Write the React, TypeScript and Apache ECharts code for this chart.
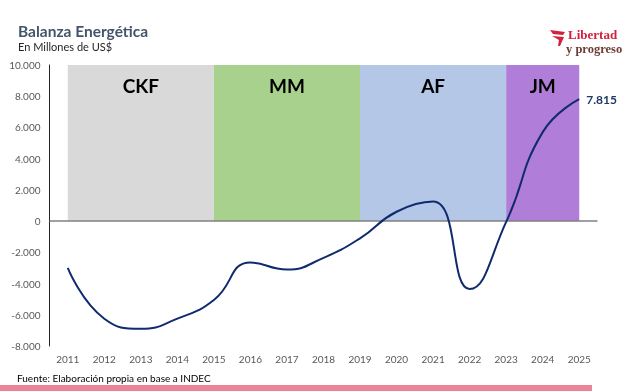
import React, { useEffect, useRef } from "react";
import * as echarts from "echarts";

const years = ["2011","2012","2013","2014","2015","2016","2017","2018","2019","2020","2021","2022","2023","2024","2025"];
const balance = [-3000, -6250, -6900, -6250, -5050, -2650, -3100, -2350, -1100, 600, 1250, -4350, -50, 5700, 7815];
const periods = [
  { name: "CKF", from: "2011", to: "2015", color: "#d9d9d9" },
  { name: "MM", from: "2015", to: "2019", color: "#a9d18e" },
  { name: "AF", from: "2019", to: "2023", color: "#b4c7e7" },
  { name: "JM", from: "2023", to: "2025", color: "#b07ed8" },
];
const yTicks = { min: -8000, max: 10000, interval: 2000 };

const fmt = (v: number) => {
  const s = Math.abs(v).toString().replace(/\B(?=(\d{3})+(?!\d))/g, ".");
  return (v < 0 ? "-" : "") + s;
};

export default function App() {
  const ref = useRef<HTMLDivElement>(null);
  useEffect(() => {
    const chart = echarts.init(ref.current!, null, { renderer: "svg" });
    const font = "Lato, 'Open Sans', sans-serif";
    const serif = "'Liberation Serif', 'DejaVu Serif', serif";
    chart.setOption({
      animation: false,
      textStyle: { fontFamily: font },
      grid: { left: 49.5, right: 42.5, top: 65, bottom: 45 },
      xAxis: {
        type: "category",
        data: years,
        boundaryGap: true,
        axisLine: { show: false },
        axisTick: { show: false },
        axisLabel: { color: "#595959", fontSize: 10, margin: 8, fontFamily: font },
      },
      yAxis: {
        type: "value",
        min: yTicks.min,
        max: yTicks.max,
        interval: yTicks.interval,
        splitLine: { show: false },
        axisLine: { show: true, lineStyle: { color: "#262626", width: 1 } },
        axisTick: { show: false },
        axisLabel: { color: "#595959", fontSize: 10, margin: 9, formatter: (v: number) => fmt(v), fontFamily: font },
      },
      graphic: [
        { type: "text", left: 18, top: 23, style: { text: "Balanza Energética", fontSize: 15.5, fontWeight: "bold", fill: "#44546a", fontFamily: font } },
        { type: "text", left: 18, top: 41, style: { text: "En Millones de US$", fontSize: 11, fill: "#262626", fontFamily: font } },
        { type: "text", left: 17, top: 373, style: { text: "Fuente: Elaboración propia en base a INDEC", fontSize: 10, fill: "#000000", fontFamily: font } },
        { type: "rect", shape: { x: 0, y: 385, width: 592, height: 6 }, style: { fill: "#ec8399" } },
        { type: "polygon", shape: { points: [[550, 30], [565, 32], [563, 35], [553, 34]] }, style: { fill: "#d3203c" } },
        { type: "polygon", shape: { points: [[552, 36], [564, 37], [560, 46], [558, 46], [559, 40]] }, style: { fill: "#d3203c" } },
        { type: "text", x: 568, y: 28, style: { text: "Libertad", fontSize: 13, fontWeight: "bold", fill: "#d3203c", fontFamily: serif } },
        { type: "text", x: 566, y: 42, style: { text: "y progreso", fontSize: 12.5, fontWeight: "bold", fill: "#6e3b35", fontFamily: serif } },
      ],
      series: [
        {
          type: "line",
          data: balance,
          smooth: 0.5,
          symbol: "none",
          lineStyle: { color: "#0f2b6e", width: 2 },
          z: 5,
          endLabel: {
            show: true,
            distance: 7,
            formatter: (p: any) => fmt(p.value),
            color: "#1f3864",
            fontWeight: "bold",
            fontSize: 12,
            fontFamily: font,
          },
          markArea: {
            silent: true,
            data: periods.map((p) => [
              {
                name: p.name,
                xAxis: p.from,
                yAxis: 10000,
                itemStyle: { color: p.color },
                label: { show: true, position: "insideTop", distance: 11, color: "#000", fontSize: 19, fontWeight: "bold", fontFamily: font },
              },
              { xAxis: p.to, yAxis: 0 },
            ]),
          },
          markLine: {
            silent: true,
            symbol: "none",
            label: { show: false },
            lineStyle: { color: "#808080", width: 1.5, type: "solid" },
            data: [{ yAxis: 0 }],
          },
        },
      ],
    });
    return () => chart.dispose();
  }, []);
  return <div ref={ref} style={{ position: "fixed", left: 0, top: 0, width: 640, height: 391 }} />;
}
